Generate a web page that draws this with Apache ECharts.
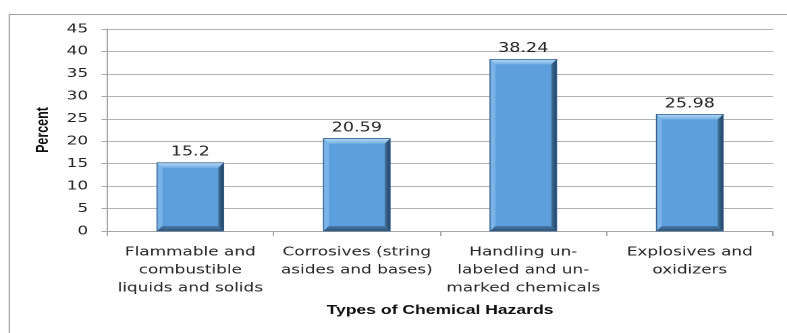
<!DOCTYPE html>
<html>
<head>
<meta charset="utf-8">
<script src="https://cdn.jsdelivr.net/npm/echarts@6/dist/echarts.min.js"></script>
<style>
  html, body { margin: 0; padding: 0; background: #ffffff; overflow: hidden; }
  /* the chart is laid out narrower and widened as a whole */
  #chart { width: 583px; height: 333px; transform: scaleX(1.35); transform-origin: 0 0; }
</style>
</head>
<body>
<div id="chart"></div>
<script>
// Chemical hazard types and the share (percent) reporting each
const categories = [
  'Flammable and\ncombustible\nliquids and solids',
  'Corrosives (string\nasides and bases)',
  'Handling un-\nlabeled and un-\nmarked chemicals',
  'Explosives and\noxidizers'
];
const percentValues = [15.2, 20.59, 38.24, 25.98];
const yTicks = { min: 0, max: 45, interval: 5 };

const axisGray = '#a6a6a6';
const textColor = '#262626';
const tickFont = 'DejaVu Sans, Verdana, sans-serif';

// bevelled column: body, four edge facets, outline and a value label on top
function renderBevelBar(params, api) {
  const idx = api.value(0);
  const val = api.value(1);
  const top = api.coord([idx, val]);
  const base = api.coord([idx, 0]);
  const w = api.size([1, 0])[0] * 0.4;
  const x = top[0] - w / 2;
  const y = top[1];
  const h = base[1] - top[1];
  const bx = 4, by = 5;
  return {
    type: 'group',
    children: [
      { type: 'rect', shape: { x: x, y: y, width: w, height: h },
        style: { fill: '#5c9fdc' } },
      { type: 'polygon',
        shape: { points: [[x, y], [x + bx, y + by], [x + bx, y + h - by], [x, y + h]] },
        style: { fill: '#79b4e8' } },
      { type: 'polygon',
        shape: { points: [[x + w, y], [x + w, y + h], [x + w - bx, y + h - by], [x + w - bx, y + by]] },
        style: { fill: new echarts.graphic.LinearGradient(0, 0, 1, 0, [
          { offset: 0, color: '#44749f' }, { offset: 1, color: '#223f5e' }]) } },
      { type: 'polygon',
        shape: { points: [[x, y + h], [x + w, y + h], [x + w - bx, y + h - by], [x + bx, y + h - by]] },
        style: { fill: new echarts.graphic.LinearGradient(0, 0, 0, 1, [
          { offset: 0, color: '#4a7bab' }, { offset: 1, color: '#2e5278' }]) } },
      { type: 'polygon',
        shape: { points: [[x, y], [x + w, y], [x + w - bx, y + by], [x + bx, y + by]] },
        style: { fill: new echarts.graphic.LinearGradient(0, 0, 0, 1, [
          { offset: 0, color: '#b2d6f4' }, { offset: 1, color: '#78b3e6' }]) } },
      { type: 'rect', shape: { x: x, y: y, width: w, height: h },
        style: { fill: 'none', stroke: '#34608c', lineWidth: 0.8 } },
      { type: 'text',
        style: { x: x + w / 2, y: y - 4, text: String(val), align: 'center',
          verticalAlign: 'bottom', fill: textColor, font: '13px ' + tickFont } }
    ]
  };
}

const chart = echarts.init(document.getElementById('chart'), null, { devicePixelRatio: 2 });
chart.setOption({
  animation: false,
  backgroundColor: '#ffffff',
  graphic: [{
    type: 'rect', left: 4.4, top: 12,
    shape: { width: 640, height: 360 },
    style: { fill: 'none', stroke: '#a0a0a0', lineWidth: 1 },
    silent: true
  }],
  grid: { left: 79.3, right: 10.4, top: 29, bottom: 102 },
  xAxis: {
    type: 'category',
    data: categories,
    name: 'Types of Chemical Hazards',
    nameLocation: 'middle',
    nameGap: 73,
    nameTextStyle: { fontFamily: 'Liberation Sans, Arial, sans-serif',
      fontWeight: 'bold', fontSize: 13, color: '#111' },
    axisLine: { lineStyle: { color: axisGray } },
    axisTick: { show: true, length: 5, lineStyle: { color: axisGray } },
    axisLabel: { interval: 0, margin: 12, fontFamily: tickFont, fontSize: 12.5,
      lineHeight: 18, color: textColor }
  },
  yAxis: {
    type: 'value',
    min: yTicks.min, max: yTicks.max, interval: yTicks.interval,
    name: 'Percent',
    nameLocation: 'middle',
    nameGap: 34,
    nameTextStyle: { fontFamily: 'Liberation Sans, Arial, sans-serif', fontWeight: 'bold',
      fontSize: 12.5, color: '#111' },
    axisLine: { show: true, lineStyle: { color: axisGray } },
    axisTick: { show: true, length: 4, lineStyle: { color: axisGray } },
    axisLabel: { margin: 14, fontFamily: tickFont, fontSize: 12.5, color: textColor },
    splitLine: { lineStyle: { color: '#b4b4b4' } }
  },
  series: [{
    type: 'custom',
    renderItem: renderBevelBar,
    encode: { x: 0, y: 1 },
    data: percentValues.map((v, i) => [i, v])
  }]
});
</script>
</body>
</html>
